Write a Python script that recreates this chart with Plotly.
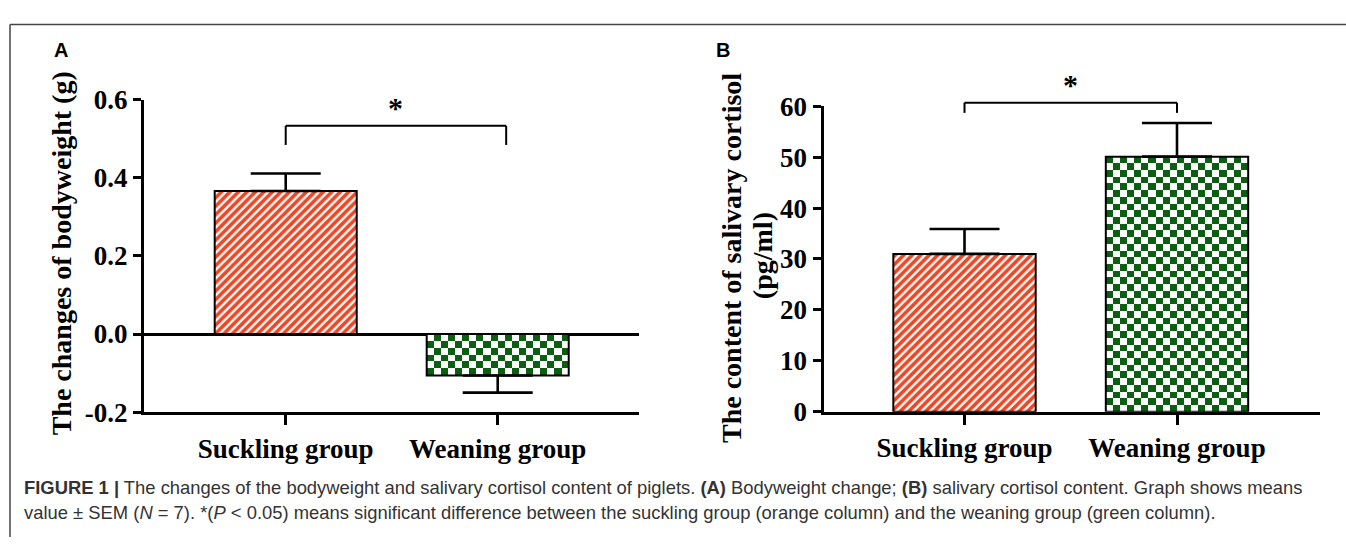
import numpy as np
import plotly.graph_objects as go

# ---------------- data ----------------
groups = ["Suckling group", "Weaning group"]
bw_mean = [0.366, -0.106]          # bodyweight change (g)
bw_sem = [0.045, 0.044]
cort_mean = [31.0, 50.1]           # salivary cortisol (pg/ml)
cort_sem = [4.9, 6.6]
bw_tickvals = [-0.2, 0.0, 0.2, 0.4, 0.6]
bw_ticktext = ["-0.2", "0.0", "0.2", "0.4", "0.6"]
cort_tickvals = [0, 10, 20, 30, 40, 50, 60]
cort_ticktext = ["0", "10", "20", "30", "40", "50", "60"]

# ---------------- layout constants ----------------
W, H = 1346, 552
ORANGE = "#ef4624"
GREEN = "#0a6010"
SERIF = "Liberation Serif"
SANS = "Liberation Sans"
BAR_W = 0.67
CELL_PX = 7.1

# plot-area pixel boxes
A_box = dict(x0=144, x1=639, ytop=89.5, ybot=420)
B_box = dict(x0=823.5, x1=1320, ytop=96.5, ybot=419.5)
A_xr = [-0.6685, 1.6665]
B_xr = [-0.6636, 1.673]
A_yr = [-0.2, 0.6]
B_yr = [0, 60]


def dom_x(b):
    return [b["x0"] / W, b["x1"] / W]


def dom_y(b):
    return [1 - b["ybot"] / H, 1 - b["ytop"] / H]


def px_per(b, xr, yr):
    return ((b["x1"] - b["x0"]) / (xr[1] - xr[0]),
            (b["ybot"] - b["ytop"]) / (yr[1] - yr[0]))


def frac(r, v):
    return (v - r[0]) / (r[1] - r[0])


fig = go.Figure()


def checker(xc, yv, pxx, pxy, xa, ya):
    ncol = max(1, int(round(BAR_W * pxx / CELL_PX)))
    nrow = max(1, int(round(abs(yv) * pxy / CELL_PX)))
    xe = np.linspace(xc - BAR_W / 2, xc + BAR_W / 2, ncol + 1)
    ye = np.linspace(0, yv, nrow + 1)
    z = [[(i + j) % 2 for j in range(ncol)] for i in range(nrow)]
    fig.add_trace(go.Heatmap(x=xe, y=ye, z=z, zmin=0, zmax=1,
                             colorscale=[[0, "#ffffff"], [1, GREEN]],
                             showscale=False, hoverinfo="skip",
                             xaxis=xa, yaxis=ya))


def add_panel(means, sems, box, xr, yr, xa, ya):
    pxx, pxy = px_per(box, xr, yr)
    for i, (m, s) in enumerate(zip(means, sems)):
        up, dn = (s, 0) if m >= 0 else (0, s)
        err = dict(type="data", array=[up], arrayminus=[dn], symmetric=False,
                   color="black", thickness=2.6, width=35)
        if i == 0:
            marker = dict(color="#ffffff",
                          line=dict(color="black", width=2),
                          pattern=dict(shape="/", fgcolor=ORANGE, bgcolor="#ffffff",
                                       size=6, solidity=0.6, fillmode="replace"))
        else:
            checker(i, m, pxx, pxy, xa, ya)
            marker = dict(color="rgba(0,0,0,0)", line=dict(color="black", width=2))
        fig.add_trace(go.Bar(x=[i], y=[m], width=BAR_W, marker=marker,
                             error_y=err, xaxis=xa, yaxis=ya,
                             showlegend=False, hoverinfo="skip"))


add_panel(bw_mean, bw_sem, A_box, A_xr, A_yr, "x", "y")
add_panel(cort_mean, cort_sem, B_box, B_xr, B_yr, "x2", "y2")

tickfont_x = dict(family=SERIF, size=27, color="black", weight="bold")
tickfont_y = dict(family=SERIF, size=27, color="black", weight="bold")


def xaxis(box, xr, anchor):
    return dict(domain=dom_x(box), range=xr, anchor=anchor,
                tickmode="array", tickvals=[0, 1], ticktext=groups,
                showline=True, linewidth=3, linecolor="black",
                ticks="outside", ticklen=10, tickwidth=3, tickcolor="black",
                showgrid=False, zeroline=False, tickfont=tickfont_x,
                fixedrange=True)


def yaxis(box, yr, tv, tt, anchor, zl):
    return dict(domain=dom_y(box), range=yr, anchor=anchor,
                tickmode="array", tickvals=tv, ticktext=tt,
                showline=True, linewidth=3, linecolor="black",
                ticks="outside", ticklen=8, tickwidth=3, tickcolor="black",
                showgrid=False, zeroline=zl, zerolinewidth=3,
                zerolinecolor="black", tickfont=tickfont_y, fixedrange=True)


shapes = []
annotations = []


# significance brackets (x in category units, y in data units)
def bracket(xr, yr, xa, ya, x0, x1, ytop, yend):
    xref, yref = xa + " domain", ya + " domain"
    fx0, fx1 = frac(xr, x0), frac(xr, x1)
    fyt, fye = frac(yr, ytop), frac(yr, yend)
    ln = dict(color="black", width=2)
    shapes.append(dict(type="line", xref=xref, yref=yref, x0=fx0, x1=fx1,
                       y0=fyt, y1=fyt, line=ln))
    shapes.append(dict(type="line", xref=xref, yref=yref, x0=fx0, x1=fx0,
                       y0=fyt, y1=fye, line=ln))
    shapes.append(dict(type="line", xref=xref, yref=yref, x0=fx1, x1=fx1,
                       y0=fyt, y1=fye, line=ln))
    annotations.append(dict(xref=xref, yref=yref, x=(fx0 + fx1) / 2, y=fyt,
                            text="*", showarrow=False, xanchor="center",
                            yanchor="bottom",
                            font=dict(family=SERIF, size=30, color="black",
                                      weight="bold")))


bracket(A_xr, A_yr, "x", "y", 0, 1.04, 0.533, 0.484)
bracket(B_xr, B_yr, "x2", "y2", 0, 1.0, 60.7, 58.7)

# frame lines
shapes.append(dict(type="line", xref="paper", yref="paper", x0=10 / W, x1=1,
                   y0=1 - 10 / H, y1=1 - 10 / H, line=dict(color="#444", width=1.5)))
shapes.append(dict(type="line", xref="paper", yref="paper", x0=10 / W, x1=10 / W,
                   y0=1 - 10 / H, y1=0, line=dict(color="#444", width=1.5)))

# panel letters
for lbl, xp in (("A", 61), ("B", 723)):
    annotations.append(dict(xref="paper", yref="paper", x=xp / W, y=1 - 37 / H,
                            text=lbl, showarrow=False, xanchor="center",
                            yanchor="middle",
                            font=dict(family=SANS, size=20, color="black",
                                      weight="bold")))

# y-axis titles
ytitle_font = dict(family=SERIF, size=28, color="black", weight="bold")
annotations.append(dict(xref="paper", yref="paper", x=61 / W, y=1 - 252 / H,
                        text="The changes of bodyweight (g)", textangle=-90,
                        showarrow=False, xanchor="center", yanchor="middle",
                        font=ytitle_font))
annotations.append(dict(xref="paper", yref="paper", x=731 / W, y=1 - 257 / H,
                        text="The content of salivary cortisol",
                        textangle=-90, showarrow=False, xanchor="center",
                        yanchor="middle", font=ytitle_font))
annotations.append(dict(xref="paper", yref="paper", x=762 / W, y=1 - 255 / H,
                        text="(pg/ml)",
                        textangle=-90, showarrow=False, xanchor="center",
                        yanchor="middle", font=ytitle_font))

# caption
cap_font = dict(family=SANS, size=18.4, color="#333333")
annotations.append(dict(
    xref="paper", yref="paper", x=22 / W, y=1 - 500 / H, xanchor="left",
    yanchor="middle", showarrow=False, font=cap_font,
    text="<b>FIGURE 1 |</b> The changes of the bodyweight and salivary cortisol "
         "content of piglets. <b>(A)</b> Bodyweight change; <b>(B)</b> salivary "
         "cortisol content. Graph shows means"))
annotations.append(dict(
    xref="paper", yref="paper", x=22 / W, y=1 - 526 / H, xanchor="left",
    yanchor="middle", showarrow=False, font=cap_font,
    text="value ± SEM (<i>N</i> = 7). *(<i>P</i> &lt; 0.05) means significant "
         "difference between the suckling group (orange column) and the weaning "
         "group (green column)."))

fig.update_layout(
    width=W, height=H, autosize=False,
    margin=dict(l=0, r=0, t=0, b=0, pad=0),
    paper_bgcolor="white", plot_bgcolor="white",
    showlegend=False, barmode="overlay",
    xaxis=xaxis(A_box, A_xr, "y"),
    yaxis=yaxis(A_box, A_yr, bw_tickvals, bw_ticktext, "x", True),
    xaxis2=xaxis(B_box, B_xr, "y2"),
    yaxis2=yaxis(B_box, B_yr, cort_tickvals, cort_ticktext, "x2", False),
    shapes=shapes, annotations=annotations,
)

fig.write_html("out.html", config={"displayModeBar": False})
